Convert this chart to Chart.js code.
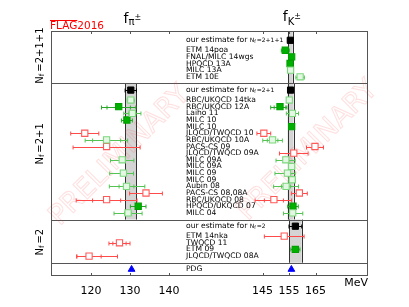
<!DOCTYPE html>
<html>
<head>
<meta charset="utf-8">
<script src="https://cdn.jsdelivr.net/npm/chart.js@4"></script>
<style>
  html, body { margin: 0; padding: 0; background: #fff; }
</style>
</head>
<body>
<canvas id="chart" width="409" height="307"></canvas>
<script>
// ---- data (values in MeV); errors are [value, minus, plus, stat] ----
const sectionNames = ['2+1+1', '2+1', '2'];

const estPi = [null, [130.2, 1.45, 1.45]];
const estK = [[155.5, 0.9, 0.9], [155.6, 1.1, 1.1], [157.4, 2.4, 2.4]];

const labels211 = ['ETM 14poa', 'FNAL/MILC 14wgs', 'HPQCD 13A', 'MILC 13A', 'ETM 10E'];
const styles211 = ['g', 'g', 'g', 'o', 'o'];
const fpi211 = [null, null, null, null, null];
const fK211 = [[153.6, 1.5, 1.5, 0], [156.0, 0.4, 0.4, 0], [155.4, 0.5, 0.5, 0], [155.6, 0.5, 0.5, 0], [159.2, 1.6, 1.6, 0]];

const labels21 = ['RBC/UKQCD 14tka', 'RBC/UKQCD 12A', 'Laiho 11', 'MILC 10', 'MILC 10', 'JLQCD/TWQCD 10',
  'RBC/UKQCD 10A', 'PACS-CS 09', 'JLQCD/TWQCD 09A', 'MILC 09A', 'MILC 09A', 'MILC 09', 'MILC 09',
  'Aubin 08', 'PACS-CS 08,08A', 'RBC/UKQCD 08', 'HPQCD/UKQCD 07', 'MILC 04'];
const styles21 = ['o', 'g', 'o', 'g', 'g', 'r', 'o', 'r', 'r', 'o', 'o', 'o', 'o', 'o', 'r', 'r', 'g', 'o'];
const fpi21 = [[130.2, 0.9, 0.9, 0], [127.1, 4.4, 4.4, 3.0], [130.6, 2.2, 2.2, 0.9], [129.2, 1.4, 1.4, 0.4], null,
  [118.4, 3.6, 3.6, 0], [124.0, 5.5, 5.4, 3.6], [124.0, 8.6, 8.6, 0], null, [128.0, 3.0, 3.0, 0.3], null,
  [128.3, 3.5, 2.6, 0.5], null, [129.1, 4.4, 4.7, 1.9], [134.1, 4.2, 4.2, 0], [124.0, 7.8, 7.8, 3.6],
  [132.1, 2.0, 2.0, 0.6], [129.5, 3.6, 3.6, 0.9]];
const fK21 = [[155.1, 0.6, 0.6, 0], [151.6, 3.5, 2.6, 2.2], [156.3, 2.3, 2.3, 1.0], null, [156.0, 0.7, 0.7, 0.4],
  [145.5, 2.6, 2.6, 0], [148.8, 3.7, 3.7, 2.0], [164.8, 3.2, 3.2, 0], [156.8, 5.4, 5.4, 0], [153.8, 3.7, 3.5, 0],
  [156.0, 1.0, 1.0, 0], [154.4, 4.7, 2.9, 0], [156.2, 1.2, 1.2, 0], [153.9, 4.7, 4.7, 1.7], [158.9, 3.0, 3.0, 0],
  [149.3, 7.1, 6.7, 3.6], [156.5, 2.0, 2.0, 0], [156.4, 3.5, 3.8, 0]];

const labels2 = ['ETM 14nka', 'TWQCD 11', 'ETM 09', 'JLQCD/TWQCD 08A'];
const styles2 = ['r', 'r', 'g', 'r'];
const fpi2 = [null, [127.3, 2.7, 2.7, 1.7], null, [119.5, 3.2, 7.3, 3.1]];
const fK2 = [[153.2, 7.5, 7.5, 0], null, [157.4, 1.7, 1.7, 0], null];

const pdgPi = 130.4;
const pdgK = 155.9;

const piTicks = [120, 130, 140];
const kTicks = [145, 155, 165];

// axis ranges: both panels share the full plot width
const piMin = 109.74, piMax = 191.03;
const kMin = 65.19, kMax = 184.81;
const kToPi = k => piMin + (k - kMin) / (kMax - kMin) * (piMax - piMin);

// ---- layout of the rows (y in row units, top = 0) ----
const sections = [
  { labels: labels211, styles: styles211, pi: fpi211, k: fK211 },
  { labels: labels21, styles: styles21, pi: fpi21, k: fK21 },
  { labels: labels2, styles: styles2, pi: fpi2, k: fK2 }
];
let yy = 0.4;
const sepY = [], estY = [];
sections.forEach(sec => {
  yy += 1; estY.push(yy);
  yy += 1.5;
  sec.rowY = sec.labels.map((_, i) => yy + i);
  yy += sec.labels.length - 1;
  yy += 1; sepY.push(yy);
});
const pdgY = yy + 1;
const yMax = pdgY + 1;

const looks = {
  g: { fill: '#00b000', edge: '#00a000', bar: '#2aa82a' },
  o: { fill: '#e4f7e4', edge: '#7cd87c', bar: '#55c455' },
  r: { fill: '#ffffff', edge: '#ff5a5a', bar: '#ff4a4a' }
};

function pt(v, y) {
  return { x: v[0], y, em: v[1], ep: v[2], es: v[3] || 0 };
}

const datasets = [];
['x', 'xK'].forEach(axis => {
  ['o', 'r', 'g'].forEach(st => {
    const data = [];
    sections.forEach(sec => {
      const vals = axis === 'x' ? sec.pi : sec.k;
      vals.forEach((v, i) => { if (v && sec.styles[i] === st) data.push(pt(v, sec.rowY[i])); });
    });
    datasets.push({
      data, xAxisID: axis, pointStyle: 'rect', pointRadius: 4.4, borderWidth: 1.1,
      backgroundColor: looks[st].fill, borderColor: looks[st].edge, errColor: looks[st].bar
    });
  });
  const ests = axis === 'x' ? estPi : estK;
  const estData = [];
  ests.forEach((v, s) => { if (v) estData.push(pt(v, estY[s])); });
  datasets.push({
    data: estData, xAxisID: axis, pointStyle: 'rect', pointRadius: 4.4, borderWidth: 1,
    backgroundColor: '#000', borderColor: '#000', errColor: '#000'
  });
  datasets.push({
    data: [{ x: axis === 'x' ? pdgPi : pdgK, y: pdgY }], xAxisID: axis, pointStyle: 'triangle',
    pointRadius: 3.9, borderWidth: 1, backgroundColor: '#0000ff', borderColor: '#0000ff'
  });
});

// bands behind the estimates
const bands = [];
estK.forEach((v, s) => bands.push({ axis: 'xK', v, y0: s === 0 ? 0 : sepY[s - 1], y1: sepY[s] }));
estPi.forEach((v, s) => { if (v) bands.push({ axis: 'x', v, y0: s === 0 ? 0 : sepY[s - 1], y1: sepY[s] }); });

const FONT = '"DejaVu Sans", sans-serif';
const LABEL_SIZE = 7.6;

function rich(ctx, parts, x, y, align) {
  // parts: [text, size, dy, gapAfter]
  let w = 0;
  parts.forEach(p => { ctx.font = p[1] + 'px ' + FONT; w += ctx.measureText(p[0]).width + (p[3] || 0); });
  let cx = align === 'center' ? x - w / 2 : x;
  parts.forEach(p => {
    ctx.font = p[1] + 'px ' + FONT;
    ctx.fillText(p[0], cx, y + (p[2] || 0));
    cx += ctx.measureText(p[0]).width + (p[3] || 0);
  });
}

const decor = {
  id: 'decor',
  beforeDatasetsDraw(chart) {
    const { ctx, chartArea: a, scales } = chart;
    const yS = scales.y;
    ctx.save();
    bands.forEach(b => {
      const xs = scales[b.axis];
      const xl = xs.getPixelForValue(b.v[0] - b.v[1]);
      const xr = xs.getPixelForValue(b.v[0] + b.v[2]);
      const yt = yS.getPixelForValue(b.y0), yb = yS.getPixelForValue(b.y1);
      ctx.fillStyle = '#d4d4d4';
      ctx.fillRect(xl, yt, xr - xl, yb - yt);
      ctx.strokeStyle = '#333';
      ctx.lineWidth = 1;
      ctx.beginPath();
      ctx.moveTo(Math.round(xl) + 0.5, yt); ctx.lineTo(Math.round(xl) + 0.5, yb);
      ctx.moveTo(Math.round(xr) + 0.5, yt); ctx.lineTo(Math.round(xr) + 0.5, yb);
      ctx.stroke();
    });
    // section separators
    ctx.strokeStyle = '#555';
    ctx.lineWidth = 1;
    sepY.forEach(s => {
      const p = Math.round(yS.getPixelForValue(s)) + 0.5;
      ctx.beginPath(); ctx.moveTo(a.left, p); ctx.lineTo(a.right, p); ctx.stroke();
    });
    // watermark
    ctx.font = '28px ' + FONT;
    ctx.textAlign = 'center';
    ctx.textBaseline = 'middle';
    ctx.strokeStyle = 'rgba(255,60,60,0.16)';
    ctx.lineWidth = 1.1;
    [[120, 156], [308, 151]].forEach(c => {
      ctx.save();
      ctx.translate(c[0], c[1]);
      ctx.rotate(-Math.PI / 4);
      ctx.strokeText('PRELIMINARY', 0, 0);
      ctx.restore();
    });
    // error bars
    chart.data.datasets.forEach(ds => {
      if (!ds.errColor) return;
      const xs = scales[ds.xAxisID];
      ctx.strokeStyle = ds.errColor;
      ctx.lineWidth = 1;
      ds.data.forEach(d => {
        const x0 = xs.getPixelForValue(d.x - d.em), x1 = xs.getPixelForValue(d.x + d.ep);
        const yp = Math.round(yS.getPixelForValue(d.y)) + 0.5;
        ctx.beginPath();
        ctx.moveTo(x0, yp); ctx.lineTo(x1, yp);
        ctx.moveTo(x0, yp - 2); ctx.lineTo(x0, yp + 2);
        ctx.moveTo(x1, yp - 2); ctx.lineTo(x1, yp + 2);
        if (d.es) {
          const s0 = xs.getPixelForValue(d.x - d.es), s1 = xs.getPixelForValue(d.x + d.es);
          ctx.moveTo(s0, yp - 2); ctx.lineTo(s0, yp + 2);
          ctx.moveTo(s1, yp - 2); ctx.lineTo(s1, yp + 2);
        }
        ctx.stroke();
      });
    });
    ctx.restore();
  },
  afterDatasetsDraw(chart) {
    const { ctx, chartArea: a, scales } = chart;
    const yS = scales.y;
    ctx.save();
    // frame
    ctx.strokeStyle = '#555';
    ctx.lineWidth = 1;
    ctx.strokeRect(a.left + 0.5, a.top + 0.5, a.right - a.left - 1, a.bottom - a.top - 1);
    // inward ticks
    [['x', piTicks], ['xK', kTicks]].forEach(([id, ts]) => {
      ts.forEach(t => {
        const p = Math.round(scales[id].getPixelForValue(t)) + 0.5;
        ctx.beginPath();
        ctx.moveTo(p, a.top); ctx.lineTo(p, a.top + 3);
        ctx.moveTo(p, a.bottom); ctx.lineTo(p, a.bottom - 3);
        ctx.stroke();
      });
    });
    // row labels
    const lx = 186;
    ctx.fillStyle = '#000';
    ctx.textAlign = 'left';
    ctx.textBaseline = 'middle';
    sections.forEach((sec, s) => {
      const ep = yS.getPixelForValue(estY[s]);
      rich(ctx, [['our estimate for ', LABEL_SIZE], ['N', 6, 0.5], ['f', 4.5, 2, 1], ['=' + sectionNames[s], 6, 0.5]], lx, ep);
      ctx.font = LABEL_SIZE + 'px ' + FONT;
      sec.labels.forEach((l, i) => ctx.fillText(l, lx, yS.getPixelForValue(sec.rowY[i])));
    });
    ctx.font = LABEL_SIZE + 'px ' + FONT;
    ctx.fillText('PDG', lx, yS.getPixelForValue(pdgY));
    // Nf labels on the left
    [[3.7, '2+1+1'], [17.0, '2+1'], [31.8, '2']].forEach(([yv, txt]) => {
      ctx.save();
      ctx.translate(40, yS.getPixelForValue(yv));
      ctx.rotate(-Math.PI / 2);
      rich(ctx, [['N', 10, 0], ['f', 7, 2.5, 2], ['=' + txt, 10, 0]], 0, 0, 'center');
      ctx.restore();
    });
    // titles
    ctx.textBaseline = 'alphabetic';
    rich(ctx, [['f', 14, 0], ['\u03c0', 10, 2], ['\u00b1', 8, -3]], scales.x.getPixelForValue(130.6), 23, 'center');
    rich(ctx, [['f', 14, 0], ['K', 10, 4], ['\u00b1', 8, -2]], scales.xK.getPixelForValue(156.1), 21, 'center');
    // FLAG logo
    ctx.fillStyle = '#ff0000';
    ctx.font = '10.5px ' + FONT;
    ctx.fillText('FLAG2016', 50, 28.5);
    const fw = ctx.measureText('FLAG').width;
    ctx.strokeStyle = '#ff0000';
    ctx.beginPath(); ctx.moveTo(50, 20.5); ctx.lineTo(50 + fw, 20.5); ctx.stroke();
    ctx.restore();
  }
};

Chart.defaults.font.family = FONT;
Chart.defaults.color = '#000';

new Chart(document.getElementById('chart'), {
  type: 'scatter',
  data: { datasets },
  options: {
    responsive: false,
    animation: false,
    devicePixelRatio: 1,
    events: [],
    layout: { padding: { left: 51, right: 41, top: 31, bottom: 0 } },
    plugins: { legend: { display: false }, tooltip: { enabled: false } },
    scales: {
      xK: { type: 'linear', display: false, min: kMin, max: kMax },
      x: {
        type: 'linear', position: 'bottom', min: piMin, max: piMax,
        grid: { display: false }, border: { display: false },
        ticks: {
          font: { size: 11 }, padding: 1, maxRotation: 0, autoSkip: false,
          callback: (v, i) => i < piTicks.length ? String(piTicks[i]) : String(kTicks[i - piTicks.length])
        },
        title: { display: true, text: 'MeV', align: 'end', font: { size: 11 }, padding: { top: 0, bottom: 17 } },
        afterBuildTicks: s => {
          s.ticks = piTicks.map(v => ({ value: v })).concat(kTicks.map(k => ({ value: kToPi(k) })));
        },
        afterFit: s => { s.height = 31; }
      },
      y: { type: 'linear', display: false, reverse: true, min: 0, max: yMax }
    }
  },
  plugins: [decor]
});
</script>
</body>
</html>
